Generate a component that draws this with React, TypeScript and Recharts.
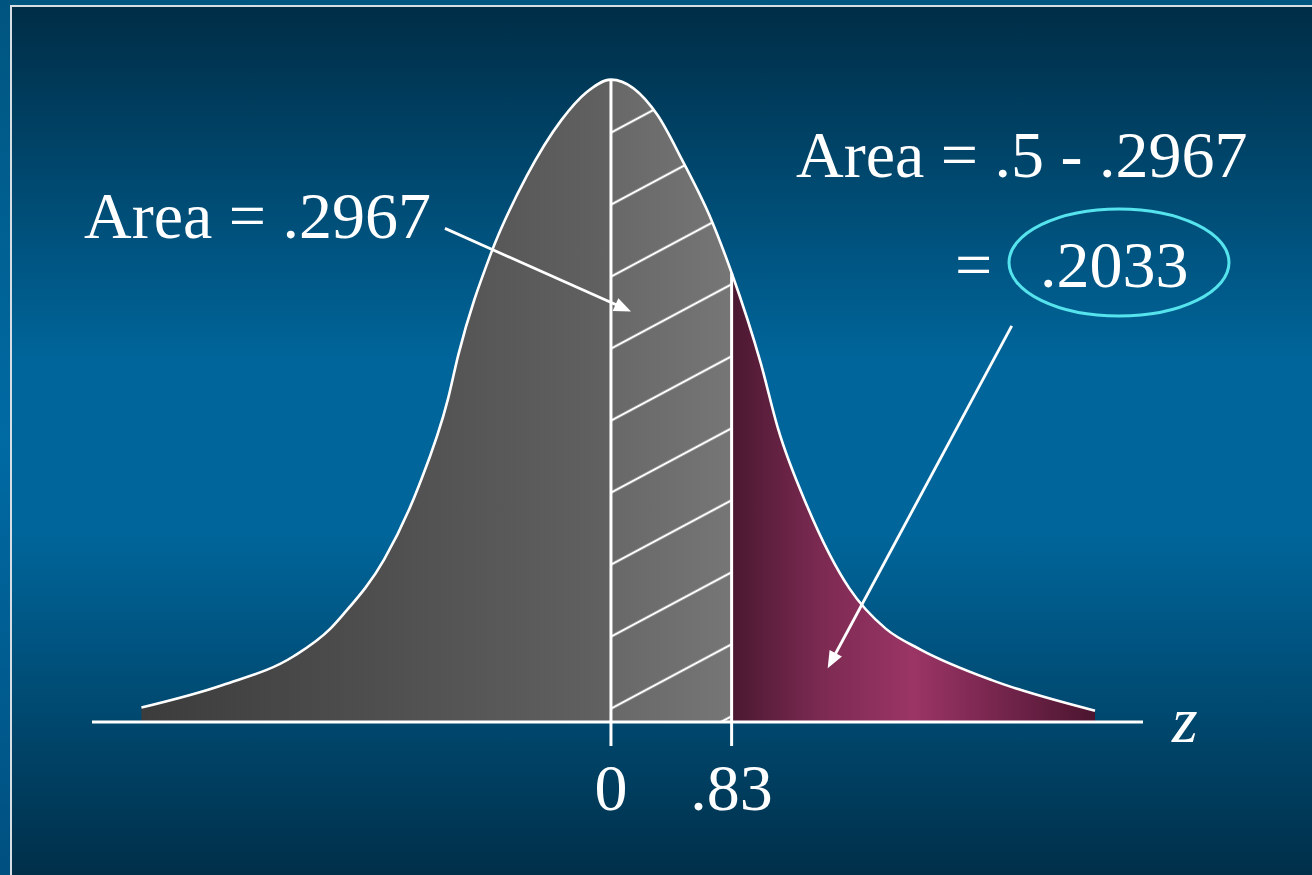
import { Area, ComposedChart, Line, ReferenceLine, XAxis, YAxis } from "recharts";

// standard normal curve, z positions and curve heights
const zPoints = [
  -3.23, -2.67, -2.18, -1.93, -1.84, -1.56, -1.32, -1.12, -1.05, -0.83, -0.58, -0.34, -0.17, 0,
  0.32, 0.49, 0.69, 0.83, 1.03, 1.15, 1.35, 1.64, 1.89, 2.13, 2.62, 3.33,
];
const densities = [
  0.009, 0.023, 0.041, 0.058, 0.067, 0.101, 0.147, 0.201, 0.228, 0.29, 0.339, 0.374, 0.391, 0.399,
  0.377, 0.349, 0.312, 0.279, 0.223, 0.182, 0.134, 0.083, 0.058, 0.045, 0.026, 0.007,
];

const zCut = 0.83;
const tickValues = [0, 0.83];
const tickLabels = ["0", ".83"];

const centerAreaText = "Area = .2967";
const tailAreaText = "Area = .5 - .2967";
const tailValueText = ".2033";

// pointer arrows in chart units (z, density): start -> tip
const centerPointer = [
  { x: -1.142, y: 0.3066 },
  { x: 0.138, y: 0.255 },
];
const tailPointer = [
  { x: 2.757, y: 0.246 },
  { x: 1.491, y: 0.0334 },
];

const rows = zPoints.map((z, i) => ({
  z,
  density: densities[i],
  mid: z >= 0 && z <= zCut ? densities[i] : null,
}));

const zMin = zPoints[0];
const zMax = zPoints[zPoints.length - 1];
const at = (z: number) => (z - zMin) / (zMax - zMin);
const peak = densities[zPoints.indexOf(0)];
const cutHeight = densities[zPoints.indexOf(zCut)];

const serif = "'Liberation Serif', 'Times New Roman', serif";

function Pointer(props: any) {
  const { x1, y1, x2, y2 } = props;
  const dx = x2 - x1;
  const dy = y2 - y1;
  const len = Math.hypot(dx, dy);
  const ux = dx / len;
  const uy = dy / len;
  const head = 17;
  const half = 7;
  const bx = x2 - ux * head;
  const by = y2 - uy * head;
  return (
    <g>
      <line x1={x1} y1={y1} x2={bx + ux * 2} y2={by + uy * 2} stroke="#fff" strokeWidth={2.8} />
      <polygon
        points={`${x2},${y2} ${bx - uy * half},${by + ux * half} ${bx + uy * half},${by - ux * half}`}
        fill="#fff"
      />
    </g>
  );
}

function ZTick({ x, y, payload }: any) {
  const i = tickValues.indexOf(payload.value);
  return (
    <text x={x} y={y + 64} textAnchor="middle" fill="#fff" fontSize={66} fontFamily={serif}>
      {tickLabels[i]}
    </text>
  );
}

export default function App() {
  return (
    <div
      style={{
        position: "fixed",
        left: 0,
        top: 0,
        width: 1312,
        height: 875,
        overflow: "hidden",
        background: "linear-gradient(180deg, #00557f 0%, #006aa3 50%, #005080 100%)",
      }}
    >
      <div
        style={{
          position: "absolute",
          left: 10,
          top: 5,
          width: 1320,
          height: 880,
          borderLeft: "2px solid #d6dde3",
          borderTop: "2px solid #d6dde3",
          background: "linear-gradient(180deg, #002d46 0%, #00659a 40%, #00659a 60%, #002d46 100%)",
        }}
      />
      <div style={{ position: "absolute", left: 0, top: 0 }}>
        <ComposedChart
          width={1312}
          height={875}
          data={rows}
          margin={{ top: 78, right: 169, bottom: 93, left: 92 }}
        >
          <defs>
            <linearGradient id="bellFill" x1="0" y1="0" x2="1" y2="0">
              <stop offset={0} stopColor="#3c3c3c" />
              <stop offset={at(0)} stopColor="#616161" />
              <stop offset={at(0)} stopColor="#686868" />
              <stop offset={at(zCut)} stopColor="#767676" />
              <stop offset={at(zCut)} stopColor="#4a1830" />
              <stop offset={at(1.45)} stopColor="#7c2a52" />
              <stop offset={at(2.08)} stopColor="#9b3566" />
              <stop offset={at(2.6)} stopColor="#7a2750" />
              <stop offset={1} stopColor="#4b152f" />
            </linearGradient>
            <pattern
              id="hatch"
              patternUnits="userSpaceOnUse"
              width={400}
              height={72}
              patternTransform="skewY(-28.1) translate(0,-9.1)"
            >
              <line x1={0} y1={36} x2={400} y2={36} stroke="#fff" strokeWidth={2.5} />
            </pattern>
          </defs>
          <XAxis
            dataKey="z"
            type="number"
            domain={[-3.57, 3.66]}
            ticks={tickValues}
            height={60}
            axisLine={{ stroke: "#fff", strokeWidth: 3 }}
            tickLine={{ stroke: "#fff", strokeWidth: 3 }}
            tickSize={24}
            tickMargin={0}
            tick={<ZTick />}
            interval={0}
          />
          <YAxis hide domain={[0, 0.4]} />
          <Area
            dataKey="density"
            type="monotone"
            fill="url(#bellFill)"
            fillOpacity={1}
            stroke="none"
            isAnimationActive={false}
          />
          <Area
            dataKey="mid"
            type="monotone"
            fill="url(#hatch)"
            fillOpacity={1}
            stroke="none"
            isAnimationActive={false}
          />
          <Line
            dataKey="density"
            type="monotone"
            stroke="#fff"
            strokeWidth={2.6}
            dot={false}
            activeDot={false}
            isAnimationActive={false}
          />
          <ReferenceLine
            segment={[
              { x: 0, y: 0 },
              { x: 0, y: peak },
            ]}
            stroke="#fff"
            strokeWidth={3}
          />
          <ReferenceLine
            segment={[
              { x: zCut, y: 0 },
              { x: zCut, y: cutHeight },
            ]}
            stroke="#fff"
            strokeWidth={3}
          />
          <ReferenceLine segment={centerPointer} shape={<Pointer />} />
          <ReferenceLine segment={tailPointer} shape={<Pointer />} />
          <text x={84} y={238} fill="#fff" fontSize={66} fontFamily={serif}>
            {centerAreaText}
          </text>
          <text x={796} y={177} fill="#fff" fontSize={66} fontFamily={serif}>
            {tailAreaText}
          </text>
          <text x={955} y={287} fill="#fff" fontSize={66} fontFamily={serif}>
            =
          </text>
          <text x={1040} y={287} fill="#fff" fontSize={66} fontFamily={serif}>
            {tailValueText}
          </text>
          <ellipse cx={1119} cy={262.5} rx={110} ry={53.5} fill="none" stroke="#55e4ee" strokeWidth={3} />
          <text x={1172} y={742} fill="#fff" fontSize={66} fontStyle="italic" fontFamily={serif}>
            z
          </text>
        </ComposedChart>
      </div>
    </div>
  );
}
